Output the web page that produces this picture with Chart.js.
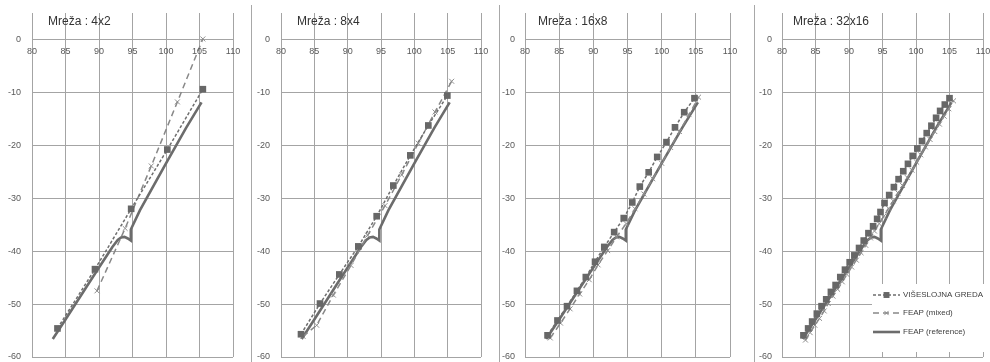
<!DOCTYPE html>
<html>
<head>
<meta charset="utf-8">
<script src="https://cdn.jsdelivr.net/npm/chart.js@4.4.1/dist/chart.umd.min.js"></script>
<style>
  html, body { margin: 0; padding: 0; background: #fff; }
  body { width: 990px; height: 362px; position: relative; overflow: hidden; }
  .panel { position: absolute; top: 0; height: 362px; }
  .panel canvas { display: block; }
  .sep { position: absolute; top: 5px; bottom: 0; width: 1px; background: #a8a8a8; }
</style>
</head>
<body>
<div class="panel" style="left:0"><canvas id="c1" width="246" height="362"></canvas></div>
<div class="panel" style="left:249px"><canvas id="c2" width="248" height="362"></canvas></div>
<div class="panel" style="left:498px"><canvas id="c3" width="250" height="362"></canvas></div>
<div class="panel" style="left:750px"><canvas id="c4" width="240" height="362"></canvas></div>
<div class="sep" style="left:251px"></div>
<div class="sep" style="left:499px"></div>
<div class="sep" style="left:754px"></div>
<script>
// axis ticks
const xTicks = [80, 85, 90, 95, 100, 105, 110];
const yTicks = [-60, -50, -40, -30, -20, -10, 0];

const panelTitles = ['Mreža : 4x2', 'Mreža : 8x4', 'Mreža : 16x8', 'Mreža : 32x16'];
const seriesNames = ['VIŠESLOJNA GREDA', 'FEAP (mixed)', 'FEAP (reference)'];

// FEAP reference curve (same in every panel)
const reference = [[83.1,-56.6],[85.0,-52.9],[88.0,-47.0],[90.0,-43.1],[92.0,-39.2],[92.8,-37.9],[93.3,-37.4],
  [93.8,-37.3],[94.3,-37.6],[94.75,-38.0],[94.75,-35.9],[96.1,-32.3],[100.0,-23.4],[103.0,-16.7],[105.3,-11.9]];

// mesh 4x2
const greda4x2 = [[83.8,-54.6],[89.4,-43.4],[94.8,-32.0],[100.2,-20.8],[105.5,-9.4]];
const mixed4x2 = [[89.7,-47.5],[93.9,-35.7],[97.8,-23.9],[101.7,-11.8],[105.5,0.1]];

// mesh 8x4
const greda8x4 = [[83.0,-55.7],[85.85,-49.9],[88.75,-44.4],[91.6,-39.1],[94.35,-33.4],[96.85,-27.6],
  [99.4,-21.9],[102.1,-16.25],[104.95,-10.6]];
const mixed8x4 = [[83.3,-56.1],[85.35,-54.0],[87.85,-48.3],[90.5,-42.7],[93.0,-37.0],[95.6,-31.4],
  [98.1,-25.6],[100.6,-19.6],[103.1,-13.7],[105.6,-7.9]];

// mesh 16x8
const greda16x8 = [[83.3,-55.9],[84.75,-53.1],[86.15,-50.4],[87.6,-47.5],[88.9,-44.9],[90.25,-42.0],
  [91.6,-39.2],[93.05,-36.4],[94.45,-33.75],[95.7,-30.8],[96.8,-27.8],[98.1,-25.1],[99.35,-22.2],
  [100.7,-19.4],[101.95,-16.6],[103.3,-13.75],[104.8,-11.1]];
const mixed16x8 = [[83.7,-56.4],[85.2,-53.6],[86.6,-50.9],[88.0,-48.1],[89.4,-45.4],[90.7,-42.6],
  [92.1,-39.9],[93.4,-37.3],[94.8,-34.8],[96.1,-32.0],[97.4,-29.2],[98.7,-26.3],[100.0,-23.4],
  [101.3,-20.4],[102.6,-17.4],[104.0,-14.2],[105.4,-10.9]];

// mesh 32x16
const greda32x16 = [[83.2,-55.9],[83.9,-54.6],[84.5,-53.3],[85.2,-51.8],[85.9,-50.4],[86.6,-49.1],
  [87.3,-47.7],[88.0,-46.4],[88.7,-44.9],[89.4,-43.5],[90.1,-42.1],[90.8,-40.8],[91.5,-39.4],
  [92.2,-38.0],[92.9,-36.6],[93.6,-35.3],[94.2,-33.9],[94.7,-32.6],[95.3,-30.9],[96.0,-29.4],
  [96.7,-27.9],[97.4,-26.4],[98.1,-24.9],[98.8,-23.5],[99.5,-22.0],[100.2,-20.6],[100.9,-19.2],
  [101.6,-17.7],[102.3,-16.3],[103.0,-14.8],[103.6,-13.5],[104.3,-12.3],[105.0,-11.1]];
const mixed32x16 = [[83.5,-56.8],[84.2,-55.4],[84.9,-54.0],[85.6,-52.7],[86.3,-51.3],[86.9,-49.9],
  [87.6,-48.5],[88.3,-47.2],[89.0,-45.8],[89.7,-44.4],[90.4,-43.0],[91.1,-41.7],[91.8,-40.3],
  [92.5,-38.9],[93.2,-37.5],[93.8,-36.2],[94.5,-34.8],[95.2,-33.4],[95.9,-31.9],[96.6,-30.5],
  [97.3,-29.0],[98.0,-27.6],[98.7,-26.1],[99.4,-24.7],[100.1,-23.2],[100.7,-21.8],[101.4,-20.3],
  [102.1,-18.9],[102.8,-17.4],[103.5,-16.0],[104.2,-14.5],[104.9,-13.1],[105.6,-11.6]];

const gridColor = '#a4a4a4';
const tickColor = '#595959';
const fontFamily = '"Liberation Sans", Arial, sans-serif';
const tickFont = { family: fontFamily, size: 9 };

const toPts = arr => arr.map(p => ({ x: p[0], y: p[1] }));

// x tick labels hang just under the y = 0 line (Excel "axis crosses at 0")
const crossLabels = {
    id: 'crossLabels',
    afterDraw(chart) {
        const { ctx, scales } = chart;
        const y0 = scales.y.getPixelForValue(0) + 12;
        ctx.save();
        ctx.font = '9px ' + fontFamily;
        ctx.fillStyle = tickColor;
        ctx.textAlign = 'center';
        ctx.textBaseline = 'middle';
        xTicks.forEach(v => ctx.fillText(String(v), scales.x.getPixelForValue(v), y0));
        ctx.restore();
    }
};

// panel caption inside the plot area
const panelTitle = {
    id: 'panelTitle',
    afterDraw(chart, args, opts) {
        const { ctx, chartArea } = chart;
        ctx.save();
        ctx.font = '12px ' + fontFamily;
        ctx.fillStyle = '#333333';
        ctx.textBaseline = 'middle';
        ctx.fillText(opts.text, chartArea.left + opts.dx, 22);
        ctx.restore();
    }
};

// Excel-like legend box, lower right of the last panel
const seriesLegend = {
    id: 'seriesLegend',
    afterDraw(chart) {
        const { ctx, chartArea } = chart;
        const bx = chartArea.left + 90, by = 284;
        ctx.save();
        ctx.fillStyle = '#ffffff';
        ctx.fillRect(bx, by, chart.width - bx, 68);
        const rows = [295, 313, 332];
        chart.data.datasets.forEach((ds, i) => {
            const y = rows[i];
            ctx.strokeStyle = ds.borderColor;
            ctx.lineWidth = ds.borderWidth;
            ctx.setLineDash(ds.borderDash || []);
            ctx.beginPath();
            ctx.moveTo(bx + 1, y);
            ctx.lineTo(bx + 28, y);
            ctx.stroke();
            ctx.setLineDash([]);
            if (ds.pointRadius > 0) {
                ctx.fillStyle = ds.pointBackgroundColor || ds.pointBorderColor;
                ctx.strokeStyle = ds.pointBorderColor;
                ctx.lineWidth = ds.pointBorderWidth || 1;
                Chart.helpers.drawPoint(ctx, { pointStyle: ds.pointStyle, radius: ds.pointRadius - 0.5, borderWidth: ds.pointBorderWidth, rotation: 0 }, bx + 14.5, y);
            }
            ctx.fillStyle = '#404040';
            ctx.font = '8px ' + fontFamily;
            ctx.textBaseline = 'middle';
            ctx.fillText(ds.label, bx + 31, y);
        });
        ctx.restore();
    }
};

function makeChart(id, title, greda, mixed, cfg) {
    const plugins = [crossLabels, panelTitle];
    if (cfg.legend) plugins.push(seriesLegend);
    return new Chart(document.getElementById(id), {
        type: 'scatter',
        data: {
            datasets: [
                {
                    label: seriesNames[0],
                    data: toPts(greda),
                    showLine: true,
                    borderColor: '#6e6e6e',
                    borderWidth: 1.5,
                    borderDash: [3, 2],
                    pointStyle: 'rect',
                    pointRadius: 4.7,
                    pointBackgroundColor: '#676767',
                    pointBorderColor: '#676767',
                    pointBorderWidth: 0
                },
                {
                    label: seriesNames[1],
                    data: toPts(mixed),
                    showLine: true,
                    borderColor: '#888888',
                    borderWidth: 1.5,
                    borderDash: [6, 4],
                    pointStyle: 'crossRot',
                    pointRadius: 3.5,
                    pointBorderColor: '#8c8c8c',
                    pointBorderWidth: 1
                },
                {
                    label: seriesNames[2],
                    data: toPts(reference),
                    showLine: true,
                    borderColor: '#6c6c6c',
                    borderWidth: 2.6,
                    pointRadius: 0
                }
            ]
        },
        options: {
            responsive: false,
            animation: false,
            layout: { padding: { left: 0, right: cfg.right, top: 13, bottom: 2 } },
            plugins: {
                legend: { display: false },
                tooltip: { enabled: false },
                panelTitle: { text: title, dx: cfg.dx }
            },
            scales: {
                x: {
                    type: 'linear',
                    min: 80,
                    max: 110,
                    position: { y: 0 },
                    afterBuildTicks: s => { s.ticks = xTicks.map(v => ({ value: v })); },
                    afterFit: s => { s.paddingLeft = 0; s.paddingRight = 0; },
                    grid: { color: gridColor, drawTicks: false },
                    border: { color: gridColor },
                    ticks: { display: false }
                },
                y: {
                    type: 'linear',
                    min: -60,
                    max: 5,
                    afterBuildTicks: s => { s.ticks = yTicks.map(v => ({ value: v })); },
                    afterFit: s => { s.width = cfg.axisW; s.paddingTop = 0; s.paddingBottom = 0; },
                    grid: { color: gridColor, drawTicks: false },
                    border: { color: gridColor },
                    ticks: { font: tickFont, color: tickColor, padding: cfg.tickPad, autoSkip: false }
                }
            }
        },
        plugins: plugins
    });
}

makeChart('c1', panelTitles[0], greda4x2, mixed4x2, { right: 13, axisW: 32, tickPad: 11, dx: 16 });
makeChart('c2', panelTitles[1], greda8x4, mixed8x4, { right: 16, axisW: 32, tickPad: 11, dx: 16 });
makeChart('c3', panelTitles[2], greda16x8, mixed16x8, { right: 18, axisW: 27, tickPad: 10, dx: 13 });
makeChart('c4', panelTitles[3], greda32x16, mixed32x16, { right: 7, axisW: 32, tickPad: 10, dx: 11, legend: true });
</script>
</body>
</html>
